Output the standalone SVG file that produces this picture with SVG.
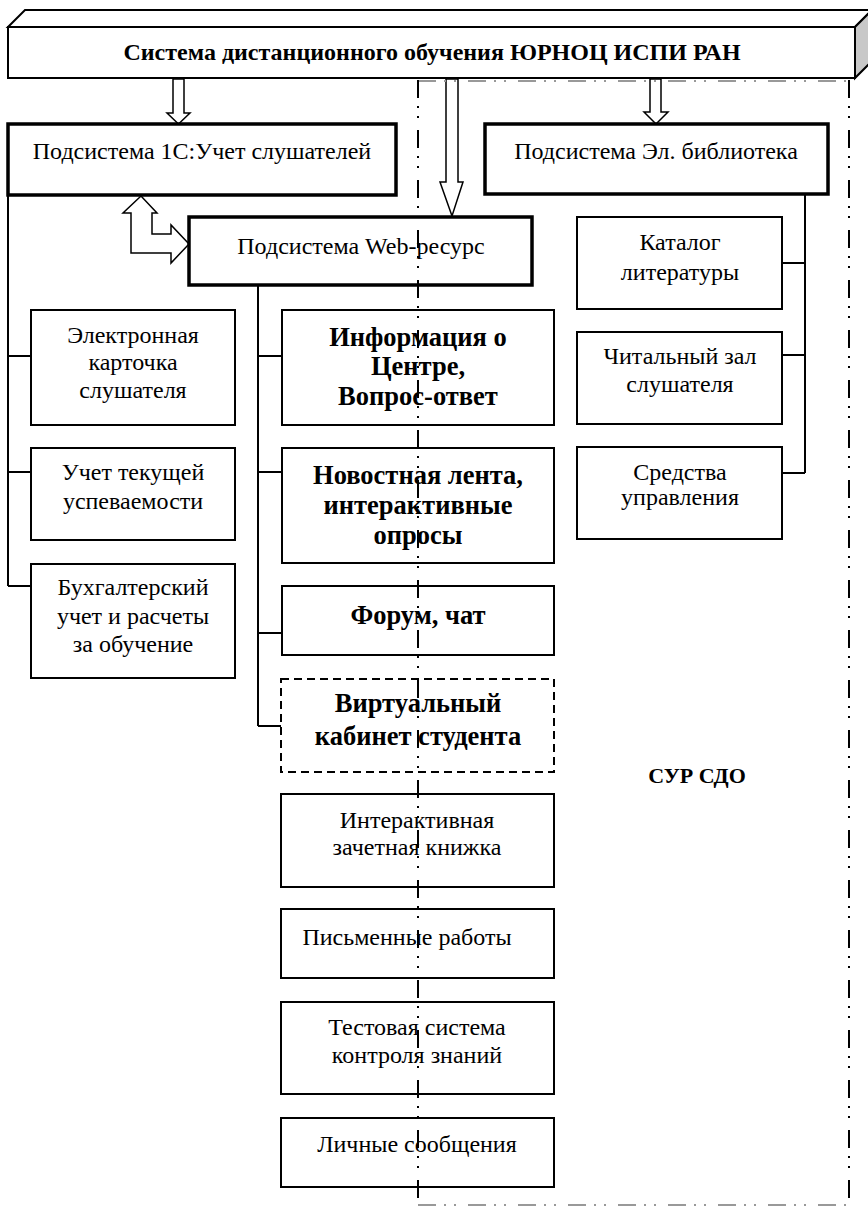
<svg xmlns="http://www.w3.org/2000/svg" width="868" height="1209" viewBox="0 0 868 1209">
<style>
.t{font-family:"Liberation Serif","Times New Roman",serif;font-size:24px;fill:#000;text-anchor:middle}
.b{font-weight:bold}
.bb{font-weight:bold;font-size:26.5px}
.box{fill:#fff;stroke:#000;stroke-width:2}
.thick{stroke-width:3.5}
.dash{stroke-dasharray:8 5}
.conn{fill:none;stroke:#000;stroke-width:2}
.arrow{fill:#fff;stroke:#000;stroke-width:1.5;stroke-linejoin:miter}
.dd{fill:none;stroke:#000;stroke-width:2;stroke-dasharray:18 8 2 8 2 12}
.ddh{fill:none;stroke:#999;stroke-width:2;stroke-dasharray:18 8 2 8 2 12}
</style>
<rect width="868" height="1209" fill="#fff"/>

<g id="top">
  <polygon points="8,27 25,10 872,10 855,27" fill="#fff" stroke="#000" stroke-width="2"/>
  <polygon points="855,27 872,10 872,61 855,78" fill="#c8c8c8" stroke="#000" stroke-width="2"/>
  <rect class="box" x="8" y="27" width="847" height="51"/>
  <text class="t b" x="432" y="60">Система дистанционного обучения ЮРНОЦ ИСПИ РАН</text>
</g>

<g id="connectors">
  <polygon class="arrow" points="173,79 184,79 184,113 190,113 178.5,124 167,113 173,113"/>
  <polygon class="arrow" points="446,79 458,79 458,182 463,182 452,216 440,182 446,182"/>
  <polygon class="arrow" points="650,79 661,79 661,112 668,112 656,124 644,112 650,112"/>
  <polygon class="arrow" points="141,196 157,213 152,213 152,234 171,234 171,225 189,244 171,263 171,253 131,253 131,213 123,213"/>
  <path class="conn" d="M8,195 V586 M8,356 H31 M8,472 H31 M8,586 H31"/>
  <path class="conn" d="M258,285 V726 M258,356 H282 M258,472 H282 M258,633 H282 M258,726 H281"/>
  <path class="conn" d="M805,194 V473 M782,263 H805 M782,355 H805 M782,473 H805"/>
</g>

<g id="n1c">
  <rect class="box thick" x="8" y="124" width="388" height="71"/>
  <text class="t" x="202" y="159">Подсистема 1С:Учет слушателей</text>
</g>
<g id="nweb">
  <rect class="box thick" x="189" y="217" width="343" height="68"/>
  <text class="t" x="361" y="254">Подсистема Web-ресурс</text>
</g>
<g id="nlib">
  <rect class="box thick" x="485" y="124" width="343" height="70"/>
  <text class="t" x="656" y="159">Подсистема Эл. библиотека</text>
</g>

<g id="ncard">
  <rect class="box" x="31" y="310" width="204" height="115"/>
  <text class="t" x="133" y="343">Электронная</text>
  <text class="t" x="133" y="370">карточка</text>
  <text class="t" x="133" y="398">слушателя</text>
</g>
<g id="nprogress">
  <rect class="box" x="31" y="448" width="204" height="92"/>
  <text class="t" x="133" y="480">Учет текущей</text>
  <text class="t" x="133" y="509">успеваемости</text>
</g>
<g id="nacc">
  <rect class="box" x="31" y="564" width="204" height="114"/>
  <text class="t" x="133" y="595">Бухгалтерский</text>
  <text class="t" x="133" y="624">учет и расчеты</text>
  <text class="t" x="133" y="652">за обучение</text>
</g>

<g id="ninfo">
  <rect class="box" x="282" y="310" width="272" height="115"/>
  <text class="t bb" x="418" y="346">Информация о</text>
  <text class="t bb" x="418" y="375">Центре,</text>
  <text class="t bb" x="418" y="405">Вопрос-ответ</text>
</g>
<g id="nnews">
  <rect class="box" x="282" y="448" width="272" height="115"/>
  <text class="t bb" x="418" y="484">Новостная лента,</text>
  <text class="t bb" x="418" y="514">интерактивные</text>
  <text class="t bb" x="418" y="544">опросы</text>
</g>
<g id="nforum">
  <rect class="box" x="282" y="586" width="272" height="69"/>
  <text class="t bb" x="418" y="624">Форум, чат</text>
</g>
<g id="nvirtual">
  <rect class="box dash" x="281" y="679" width="273" height="93"/>
  <text class="t bb" x="418" y="712">Виртуальный</text>
  <text class="t bb" x="418" y="745">кабинет студента</text>
</g>
<g id="nbook">
  <rect class="box" x="281" y="794" width="273" height="93"/>
  <text class="t" x="417" y="828">Интерактивная</text>
  <text class="t" x="417" y="855">зачетная книжка</text>
</g>
<g id="nwritten">
  <rect class="box" x="281" y="909" width="273" height="69"/>
  <text class="t" x="407" y="945">Письменные работы</text>
</g>
<g id="ntest">
  <rect class="box" x="281" y="1002" width="273" height="92"/>
  <text class="t" x="417" y="1035">Тестовая система</text>
  <text class="t" x="417" y="1063">контроля знаний</text>
</g>
<g id="nmsg">
  <rect class="box" x="281" y="1118" width="273" height="69"/>
  <text class="t" x="417" y="1152">Личные сообщения</text>
</g>

<g id="ncatalog">
  <rect class="box" x="577" y="217" width="205" height="92"/>
  <text class="t" x="680" y="250">Каталог</text>
  <text class="t" x="680" y="280">литературы</text>
</g>
<g id="nreading">
  <rect class="box" x="577" y="332" width="205" height="92"/>
  <text class="t" x="680" y="364">Читальный зал</text>
  <text class="t" x="680" y="392">слушателя</text>
</g>
<g id="nmanage">
  <rect class="box" x="577" y="447" width="205" height="92"/>
  <text class="t" x="680" y="480">Средства</text>
  <text class="t" x="680" y="505">управления</text>
</g>

<g id="region">
  <line class="ddh" x1="418" y1="81" x2="849" y2="81"/>
  <line class="ddh" x1="418" y1="1205" x2="849" y2="1205"/>
  <line class="dd" x1="418" y1="80" x2="418" y2="1206"/>
  <line class="dd" x1="849" y1="80" x2="849" y2="1206"/>
  <text class="t b" x="697" y="783" style="font-size:22px">СУР СДО</text>
</g>
</svg>
